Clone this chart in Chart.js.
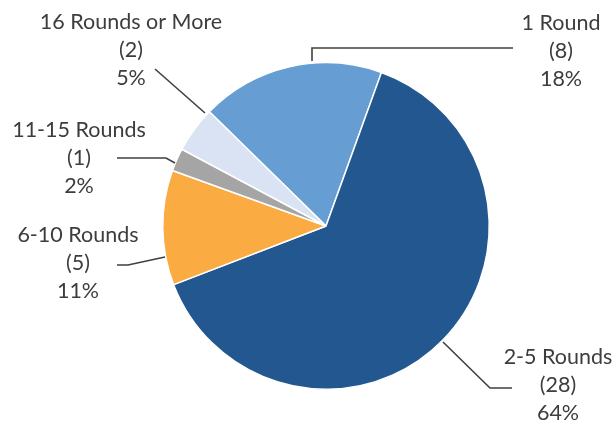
<!DOCTYPE html>
<html>
<head>
<meta charset="utf-8">
<script src="https://cdn.jsdelivr.net/npm/chart.js@4/dist/chart.umd.min.js"></script>
<style>
  html, body { margin: 0; padding: 0; background: #fff; }
  #wrap { width: 615px; height: 423px; position: relative; }
</style>
</head>
<body>
<div id="wrap"><canvas id="chart"></canvas></div>
<script>
// rounds played, number of respondents in each group
const categories = ['1 Round', '2-5 Rounds', '6-10 Rounds', '11-15 Rounds', '16 Rounds or More'];
const counts = [8, 28, 5, 1, 2];
const sliceColors = ['#669ED3', '#22578F', '#FAAC43', '#A5A5A5', '#DAE3F3'];

// where each label block sits (first line centre) and its leader line,
// both as offsets from the pie centre
const labelSpots = [
    { x: 235, y: -203, leader: [[-14, -165], [-14, -178], [187, -178]] },
    { x: 232, y: 131, leader: [[117, 116], [164, 162], [186, 162]] },
    { x: -248, y: 9, leader: [[-161, 31], [-198, 39], [-209, 39]] },
    { x: -247, y: -96, leader: [[-151, -63], [-160, -68], [-209, -68]] },
    { x: -195, y: -204, leader: [[-121, -113], [-171, -157]] }
];

const total = counts.reduce((a, b) => a + b, 0);

const calloutPlugin = {
    id: 'callouts',
    afterDatasetsDraw(chart) {
        const ctx = chart.ctx;
        const arcs = chart.getDatasetMeta(0).data;
        const cx = arcs[0].x;
        const cy = arcs[0].y;
        ctx.save();
        ctx.strokeStyle = '#404040';
        ctx.lineWidth = 1.6;
        ctx.lineJoin = 'miter';
        labelSpots.forEach((spot) => {
            ctx.beginPath();
            spot.leader.forEach((p, j) => {
                if (j === 0) ctx.moveTo(cx + p[0], cy + p[1]);
                else ctx.lineTo(cx + p[0], cy + p[1]);
            });
            ctx.stroke();
        });
        ctx.fillStyle = '#3d3d3d';
        ctx.font = '21.5px Lato';
        ctx.textAlign = 'center';
        ctx.textBaseline = 'middle';
        categories.forEach((name, i) => {
            const spot = labelSpots[i];
            const pct = Math.round(counts[i] / total * 100) + '%';
            const lines = [name, '(' + counts[i] + ')', pct];
            lines.forEach((t, k) => {
                ctx.fillText(t, cx + spot.x, cy + spot.y + k * 28);
            });
        });
        ctx.restore();
    }
};

new Chart(document.getElementById('chart'), {
    type: 'pie',
    data: {
        labels: categories,
        datasets: [{
            data: counts,
            backgroundColor: sliceColors,
            borderColor: '#ffffff',
            borderWidth: 1.5
        }]
    },
    options: {
        responsive: true,
        maintainAspectRatio: false,
        animation: false,
        rotation: -45.6,
        layout: { padding: { top: 62, bottom: 33, left: 162, right: 125 } },
        plugins: {
            legend: { display: false },
            tooltip: { enabled: false }
        }
    },
    plugins: [calloutPlugin]
});
</script>
</body>
</html>
